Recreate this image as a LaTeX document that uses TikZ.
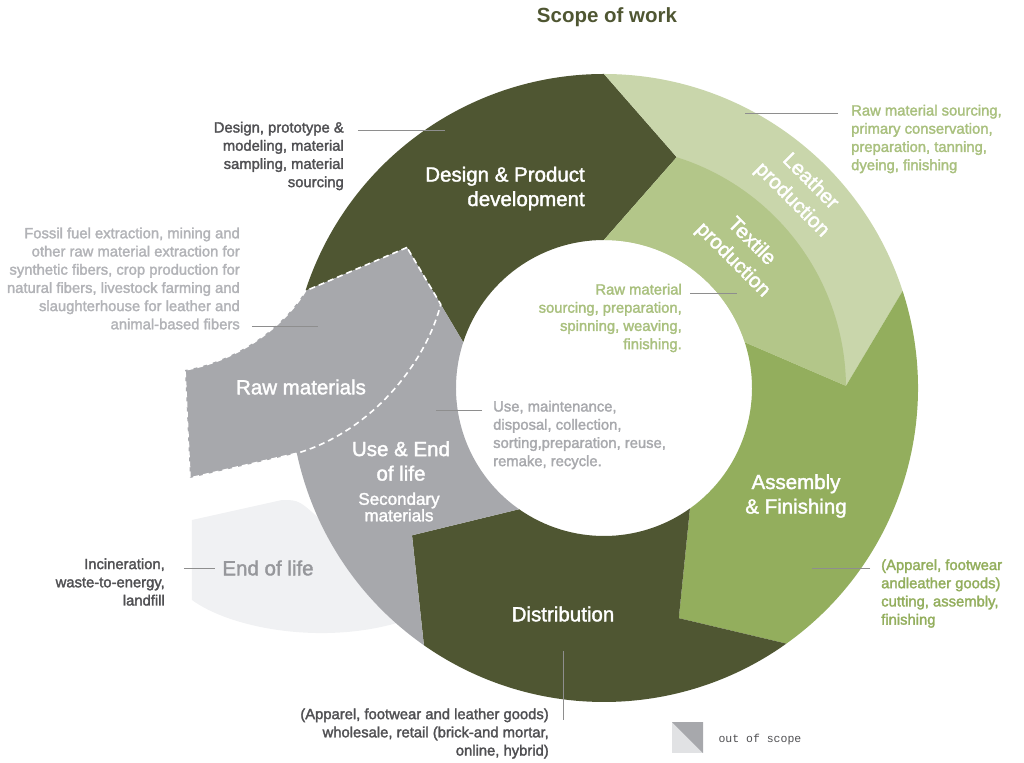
\documentclass[tikz,border=0pt]{standalone}
\usepackage{fontspec}
\setmainfont{Liberation Sans}
\newfontfamily\labelfont[FakeBold=1.8]{Liberation Sans}
\newfontfamily\descfont[FakeBold=2]{Liberation Sans}
\newfontfamily\keyfont{Liberation Mono}
\usetikzlibrary{calc}
\definecolor{darkolive}{RGB}{79,86,50}
\definecolor{leathergreen}{RGB}{201,214,171}
\definecolor{textilegreen}{RGB}{179,198,137}
\definecolor{assemblygreen}{RGB}{147,174,93}
\definecolor{scopegray}{RGB}{167,168,172}
\definecolor{eolgray}{RGB}{240,241,243}
\definecolor{keylight}{RGB}{225,226,228}
\definecolor{darktext}{RGB}{80,80,83}
\definecolor{rawtext}{RGB}{178,179,183}
\definecolor{usetext}{RGB}{168,169,173}
\definecolor{greentext}{RGB}{169,192,126}
\definecolor{eoltext}{RGB}{150,151,155}
\definecolor{leadgray}{RGB}{142,142,142}

% one arrow-shaped piece of the ring, from angle #2 clockwise to #3
\newcommand{\ringseg}[3]{%
  \fill[#1] (#2:\ringout) arc[start angle=#2, end angle=#3, radius=\ringout]
    -- ({#3-17.5}:\ringmid) -- (#3:\ringin)
    arc[start angle=#3, end angle=#2, radius=\ringin]
    -- ({#2-17.5}:\ringmid) -- cycle;}

\begin{document}
\begin{tikzpicture}[x=1pt, y=1pt,
    lbl/.style={text=white, font=\labelfont\fontsize{20.5}{24.5}\selectfont, align=center, inner sep=0pt},
    tiltlbl/.style={lbl, font=\labelfont\fontsize{20.5}{26}\selectfont, rotate=-45},
    desc/.style={font=\descfont\fontsize{14.8}{18.2}\selectfont, inner sep=0pt},
    leader/.style={draw=leadgray, line width=0.9pt},
    rawpiece/.style={fill=scopegray, draw=white, line width=1.6pt, dash pattern=on 6pt off 4pt}]
    \def\ringout{314}
    \def\ringmid{242}
    \def\ringin{148}
    \useasboundingbox (-604,-374) rectangle (420,388);

    % end of life, behind the ring
    \fill[eolgray] (-412,-132) -- (-322,-112) .. controls (-305,-112) .. (-280,-135)
        -- (-250,-170) -- (-207,-235) .. controls (-284,-257) and (-374,-240) .. (-412,-212) -- cycle;

    % the ring
    \ringseg{darkolive}{162}{90}
    \ringseg{leathergreen}{90}{18}
    \ringseg{assemblygreen}{18}{-54.5}
    \ringseg{darkolive}{-54.5}{-125}
    \ringseg{scopegray}{-125}{-198}
    \fill[textilegreen] (90:\ringin) -- (72.5:\ringmid) arc[start angle=72.5, end angle=0.5, radius=\ringmid]
        -- (18:\ringin) arc[start angle=18, end angle=90, radius=\ringin] -- cycle;

    % raw materials piece
    \draw[rawpiece] (144.5:\ringmid) -- (162:\ringout) .. controls (-319,63) and (-364,28) .. (-419,18)
        -- (-414,-90) -- (192:\ringout) .. controls (-234,-44) and (-179,23) .. ($(144.5:\ringmid)!0.6!(162:\ringin)$) -- cycle;

    % labels
    \node[font=\bfseries\fontsize{20.5}{24}\selectfont, text=darkolive] (title) at (3,371) {Scope of work};
    \node[lbl, align=right, anchor=east] (dsglbl) at (-19,199.5) {Design \& Product\\development};
    \node[tiltlbl] (lthlbl) at (197,197) {Leather\\production};
    \node[tiltlbl] (txtlbl) at (138,137) {Textile\\production};
    \node[lbl] (asmlbl) at (192,-108) {Assembly\\\& Finishing};
    \node[lbl] (dislbl) at (-41,-226) {Distribution};
    \node[lbl] (uselbl) at (-203,-73) {Use \& End\\of life};
    \node[lbl, font=\labelfont\fontsize{17}{16.5}\selectfont] (seclbl) at (-205,-119) {Secondary\\materials};
    \node[lbl] (rawlbl) at (-303,1) {Raw materials};
    \node[lbl, text=eoltext] (eollbl) at (-336,-180) {End of life};

    % descriptions
    \node[desc, text=darktext, align=right, anchor=east] (dsgtxt) at (-260,232)
        {Design, prototype \&\\modeling, material\\sampling, material\\sourcing};
    \node[desc, text=rawtext, align=right, anchor=east] (rawtxt) at (-364,109.5)
        {Fossil fuel extraction, mining and\\other raw material extraction for\\synthetic fibers, crop production for\\natural fibers, livestock farming and\\slaughterhouse for leather and\\animal-based fibers};
    \node[desc, text=darktext, align=right, anchor=east] (inctxt) at (-439,-194)
        {Incineration,\\waste-to-energy,\\landfill};
    \node[desc, text=darktext, align=right, anchor=east] (distxt) at (-55,-345.5)
        {(Apparel, footwear and leather goods)\\wholesale, retail (brick-and mortar,\\online, hybrid)};
    \node[desc, text=greentext, align=left, anchor=west] (lthtxt) at (247,249)
        {Raw material sourcing,\\primary conservation,\\preparation, tanning,\\dyeing, finishing};
    \node[desc, text=assemblygreen, align=left, anchor=west] (asmtxt) at (277,-205.5)
        {(Apparel, footwear\\andleather goods)\\cutting, assembly,\\finishing};
    \node[desc, text=greentext, align=right, anchor=east] (txttxt) at (78,70)
        {Raw material\\sourcing, preparation,\\spinning, weaving,\\finishing.};
    \node[desc, text=usetext, align=left, anchor=west] (usetxt) at (-111,-47)
        {Use, maintenance,\\disposal, collection,\\sorting,preparation, reuse,\\remake, recycle.};

    % leader lines
    \coordinate (dsgpt) at (-159,258);
    \coordinate (rawpt) at (-286,62);
    \coordinate (lthpt) at (141,275);
    \coordinate (txtpt) at (133,95);
    \coordinate (usept) at (-168,-22);
    \coordinate (asmpt) at (208,-180);
    \coordinate (dispt) at (-41,-263);
    \coordinate (disend) at (-41,-332);
    \draw[leader] ($(dsgpt -| dsgtxt.east)+(14,0)$) -- (dsgpt);
    \draw[leader] ($(rawpt -| rawtxt.east)+(12,0)$) -- (rawpt);
    \draw[leader] ($(lthpt -| lthtxt.west)+(-13,0)$) -- (lthpt);
    \draw[leader] ($(txtpt -| txttxt.east)+(8,0)$) -- (txtpt);
    \draw[leader] ($(usept -| usetxt.west)+(-11,0)$) -- (usept);
    \draw[leader] ($(asmpt -| asmtxt.west)+(-11,0)$) -- (asmpt);
    \draw[leader] ($(eollbl.west -| inctxt.east)+(19,0)$) -- ($(eollbl.west)+(-7,0)$);
    \draw[leader] (dispt) -- (disend);

    % key
    \fill[keylight] (68,-334) rectangle (99,-365);
    \fill[scopegray] (68,-334) -- (99,-334) -- (99,-365) -- cycle;
    \node[font=\keyfont\fontsize{11.5}{14}\selectfont, text=darktext, anchor=west] (keytxt) at (111,-352) {out of scope};
\end{tikzpicture}
\end{document}
